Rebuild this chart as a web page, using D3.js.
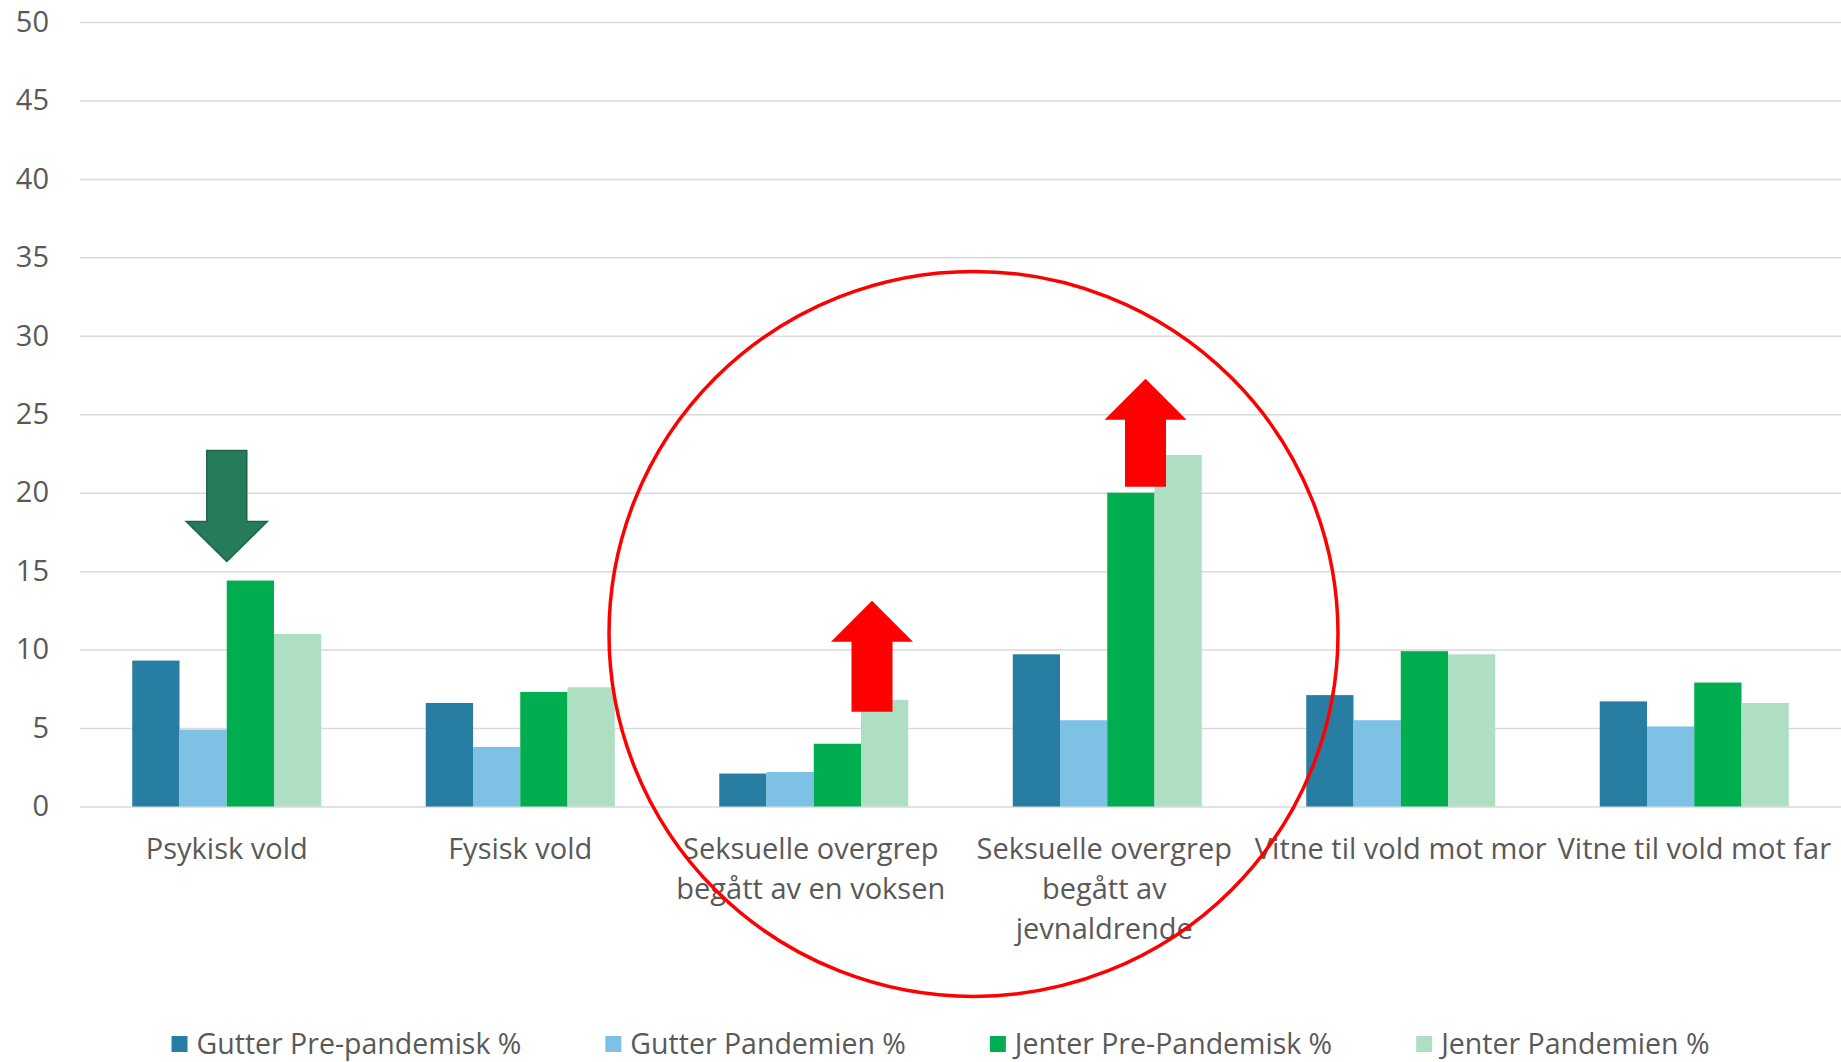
<!DOCTYPE html>
<html>
<head>
<meta charset="utf-8">
<script src="https://cdn.jsdelivr.net/npm/d3@7"></script>
<style>
  body { margin: 0; background: #fff; }
  text { font-family: "Open Sans", sans-serif; fill: #595959; }
</style>
</head>
<body>
<div id="chart"></div>
<script>
// data
var categories = ["Psykisk vold", "Fysisk vold", "Seksuelle overgrep begått av en voksen",
  "Seksuelle overgrep begått av jevnaldrende", "Vitne til vold mot mor", "Vitne til vold mot far"];
var categoryLines = [["Psykisk vold"], ["Fysisk vold"], ["Seksuelle overgrep", "begått av en voksen"],
  ["Seksuelle overgrep", "begått av", "jevnaldrende"], ["Vitne til vold mot mor"], ["Vitne til vold mot far"]];
var seriesNames = ["Gutter Pre-pandemisk %", "Gutter Pandemien %", "Jenter Pre-Pandemisk %", "Jenter Pandemien %"];
var gutterPre = [9.3, 6.6, 2.1, 9.7, 7.1, 6.7];
var gutterPand = [4.9, 3.8, 2.2, 5.5, 5.5, 5.1];
var jenterPre = [14.4, 7.3, 4.0, 20.0, 9.9, 7.9];
var jenterPand = [11.0, 7.6, 6.8, 22.4, 9.7, 6.6];
var yTicks = [0, 5, 10, 15, 20, 25, 30, 35, 40, 45, 50];

var colors = ["#287EA2", "#7DC1E5", "#00AE4F", "#AEDFC2"];
var allSeries = [gutterPre, gutterPand, jenterPre, jenterPand];

// Set up chart
var svgWidth = 1841;
var svgHeight = 1062;
var plotLeft = 80, plotRight = 1841, plotTop = 22, plotBottom = 806.5;

var svg = d3.select("#chart")
  .append("svg")
  .attr("width", svgWidth)
  .attr("height", svgHeight);

// scales
var x0 = d3.scaleBand()
  .domain(categories)
  .range([plotLeft, plotRight])
  .paddingInner(0.356)
  .paddingOuter(0.178);

var x1 = d3.scaleBand()
  .domain(d3.range(seriesNames.length))
  .range([0, x0.bandwidth()]);

var y = d3.scaleLinear()
  .domain([0, 50])
  .range([plotBottom, plotTop]);

// gridlines + y labels
var yAxis = svg.append("g")
  .attr("transform", `translate(${plotLeft},0)`)
  .call(d3.axisLeft(y).tickValues(yTicks).tickSize(-(plotRight - plotLeft)).tickPadding(31));
yAxis.select(".domain").remove();
yAxis.selectAll("line").attr("stroke", "#D9D9D9").attr("stroke-width", 1.5);
yAxis.selectAll("text").style("font-size", "29px").attr("fill", "#595959");

// bars
var rows = categories.map((c, i) => allSeries.map((s, j) => ({cat: c, k: j, v: s[i]})));
svg.append("g")
  .selectAll("g")
  .data(rows)
  .enter()
  .append("g")
  .attr("transform", d => `translate(${x0(d[0].cat)},0)`)
  .selectAll("rect")
  .data(d => d)
  .enter()
  .append("rect")
  .attr("x", d => x1(d.k))
  .attr("width", x1.bandwidth())
  .attr("y", d => y(d.v))
  .attr("height", d => y(0) - y(d.v))
  .attr("fill", d => colors[d.k]);

// x axis labels
var xAxis = svg.append("g")
  .attr("transform", `translate(0,${plotBottom})`)
  .call(d3.axisBottom(x0).tickSize(0));
xAxis.select(".domain").remove();
xAxis.selectAll("text").each(function(d, i) {
  var t = d3.select(this).text(null).attr("y", 52).attr("dy", null).style("font-size", "29px");
  var shift = categoryLines[i].length > 1 ? -3 : 0;
  categoryLines[i].forEach((ln, li) => {
    t.append("tspan").attr("x", shift).attr("y", 52 + li * 40).text(ln);
  });
});

// annotations
function arrowPath(halfHead, halfShaft, headLen, total) {
  // pointing up, tip at 0,0
  return `M0,0 L${halfHead},${headLen} L${halfShaft},${headLen} L${halfShaft},${total}` +
    ` L${-halfShaft},${total} L${-halfShaft},${headLen} L${-halfHead},${headLen} Z`;
}
var ann = svg.append("g");

// red ellipse
var cMid = (x0(categories[2]) + x0(categories[3])) / 2 + x0.bandwidth() / 2;
ann.append("ellipse")
  .attr("cx", cMid + 13)
  .attr("cy", y(11))
  .attr("rx", 364.5)
  .attr("ry", 362.5)
  .attr("fill", "none")
  .attr("stroke", "#FF0000")
  .attr("stroke-width", 3.5);

// green down arrow over Psykisk vold
ann.append("path")
  .attr("d", arrowPath(40.5, 20, 40, 111))
  .attr("transform", `translate(${x0(categories[0]) + x0.bandwidth() / 2},${y(jenterPre[0]) - 19}) rotate(180)`)
  .attr("fill", "#267B5B")
  .attr("stroke", "#1F6448")
  .attr("stroke-width", 1.5);

// red up arrows
ann.append("path")
  .attr("d", arrowPath(41, 20.5, 41, 111))
  .attr("transform", `translate(${x0(categories[2]) + x1(3) + 11},${y(jenterPand[2]) - 99})`)
  .attr("fill", "#FF0000");
ann.append("path")
  .attr("d", arrowPath(41, 20.5, 41, 108))
  .attr("transform", `translate(${x0(categories[3]) + x1(3) - 9},${y(jenterPre[3]) - 114})`)
  .attr("fill", "#FF0000");

// legend
var legendY = 1044;
var legend = svg.append("g");
var lx = 0;
seriesNames.forEach((name, i) => {
  var g = legend.append("g");
  g.append("rect").attr("x", 0).attr("y", -8).attr("width", 16).attr("height", 16).attr("fill", colors[i]);
  var t = g.append("text").attr("x", 25).attr("dy", "0.35em").style("font-size", "28.5px").text(name);
  var w = t.node().getComputedTextLength();
  g.attr("transform", `translate(${lx},0)`);
  lx += 25 + w + 84;
});
var totalW = lx - 84;
legend.attr("transform", `translate(${940.5 - totalW / 2},${legendY})`);
</script>
</body>
</html>
